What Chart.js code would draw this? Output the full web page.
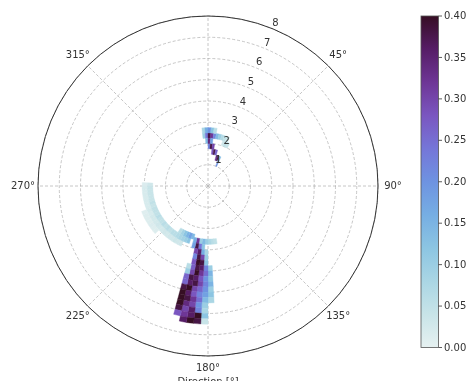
<!DOCTYPE html>
<html>
<head>
<meta charset="utf-8">
<script src="https://cdn.jsdelivr.net/npm/chart.js@4.4.1/dist/chart.umd.min.js"></script>
<style>
  html, body { margin: 0; padding: 0; background: #fff; }
  #wrap { position: relative; width: 466px; height: 381px; }
</style>
</head>
<body>
<div id="wrap"><canvas id="rose"></canvas></div>
<script>
// direction labels (0° is not shown in the original)
const dirLabels = ['', '45°', '90°', '135°', '180°', '225°', '270°', '315°'];
const radialTicks = [1, 2, 3, 4, 5, 6, 7, 8];
const cbarTicks = [0, 0.05, 0.10, 0.15, 0.20, 0.25, 0.30, 0.35, 0.40];
const VMAX = 0.40;
const DIR_BIN = 3;    // degrees per cell
const R_BIN = 0.25;   // radius per cell

// cells: [direction bin start (deg), radius bin start, value]
const streakCells = [
  [21, 1.0, 0.20],
  [15, 1.25, 0.32], [18, 1.25, 0.38], [21, 1.25, 0.14],
  [6, 1.5, 0.28], [9, 1.5, 0.38], [12, 1.5, 0.26],
  [0, 1.75, 0.22], [3, 1.75, 0.38], [6, 1.75, 0.30],
  [357, 2.0, 0.14], [0, 2.0, 0.34], [3, 2.0, 0.18]
];

const hookCells = [
  [18, 2.0, 0.03], [21, 2.0, 0.05], [24, 2.0, 0.04],
  [354, 2.25, 0.10], [357, 2.25, 0.24], [0, 2.25, 0.38], [3, 2.25, 0.32], [6, 2.25, 0.22],
  [9, 2.25, 0.14], [12, 2.25, 0.10], [15, 2.25, 0.07], [18, 2.25, 0.05], [21, 2.25, 0.04],
  [354, 2.5, 0.08], [357, 2.5, 0.16], [0, 2.5, 0.20], [3, 2.5, 0.12], [6, 2.5, 0.06]
];

// pale arcs sweeping from 270° down towards the main column
const innerArcCells = [
  [198, 2.6, 0.12], [201, 2.6, 0.10], [204, 2.6, 0.09], [207, 2.6, 0.08], [210, 2.6, 0.07],
  [213, 2.6, 0.06], [216, 2.6, 0.06], [219, 2.6, 0.05], [222, 2.6, 0.06], [225, 2.6, 0.05],
  [228, 2.6, 0.06], [231, 2.6, 0.05], [234, 2.6, 0.05], [237, 2.6, 0.06], [240, 2.6, 0.05],
  [243, 2.6, 0.05], [246, 2.6, 0.05], [249, 2.6, 0.04], [252, 2.6, 0.05], [255, 2.6, 0.04],
  [258, 2.6, 0.04], [261, 2.6, 0.04], [264, 2.6, 0.04], [267, 2.6, 0.04], [270, 2.6, 0.03]
];

const outerArcCells = [
  [204, 2.85, 0.03], [207, 2.85, 0.03], [210, 2.85, 0.035], [213, 2.85, 0.03], [216, 2.85, 0.03],
  [219, 2.85, 0.025], [222, 2.85, 0.03], [225, 2.85, 0.025], [228, 2.85, 0.025], [231, 2.85, 0.03],
  [234, 2.85, 0.025], [237, 2.85, 0.025], [240, 2.85, 0.025], [243, 2.85, 0.02], [246, 2.85, 0.025],
  [249, 2.85, 0.02], [252, 2.85, 0.02], [255, 2.85, 0.02], [258, 2.85, 0.02], [261, 2.85, 0.02],
  [264, 2.85, 0.02], [267, 2.85, 0.02], [270, 2.85, 0.015],
  [228, 3.1, 0.012], [231, 3.1, 0.012], [234, 3.1, 0.015], [237, 3.1, 0.012], [240, 3.1, 0.012],
  [243, 3.1, 0.012], [246, 3.1, 0.01]
];

const blueBitCells = [
  [195, 2.35, 0.14], [198, 2.35, 0.18], [201, 2.35, 0.15], [204, 2.35, 0.12], [207, 2.35, 0.09],
  [210, 2.35, 0.06],
  [171, 2.5, 0.05], [174, 2.5, 0.06], [177, 2.5, 0.08], [180, 2.5, 0.10], [183, 2.5, 0.14]
];

const columnCells = [
  [186, 2.5, 0.10], [189, 2.5, 0.32], [192, 2.5, 0.16],
  [183, 2.75, 0.12], [186, 2.75, 0.24], [189, 2.75, 0.38], [192, 2.75, 0.18],
  [180, 3.0, 0.08], [183, 3.0, 0.16], [186, 3.0, 0.36], [189, 3.0, 0.30],
  [180, 3.25, 0.10], [183, 3.25, 0.30], [186, 3.25, 0.38], [189, 3.25, 0.22],
  [180, 3.5, 0.12], [183, 3.5, 0.38], [186, 3.5, 0.40], [189, 3.5, 0.28],
  [177, 3.75, 0.10], [180, 3.75, 0.22], [183, 3.75, 0.36], [186, 3.75, 0.38], [189, 3.75, 0.27], [192, 3.75, 0.06],
  [177, 4.0, 0.15], [180, 4.0, 0.25], [183, 4.0, 0.32], [186, 4.0, 0.40], [189, 4.0, 0.30], [192, 4.0, 0.10],
  [177, 4.25, 0.12], [180, 4.25, 0.20], [183, 4.25, 0.28], [186, 4.25, 0.36], [189, 4.25, 0.38], [192, 4.25, 0.26],
  [177, 4.5, 0.15], [180, 4.5, 0.22], [183, 4.5, 0.30], [186, 4.5, 0.38], [189, 4.5, 0.36], [192, 4.5, 0.26],
  [177, 4.75, 0.10], [180, 4.75, 0.20], [183, 4.75, 0.26], [186, 4.75, 0.30], [189, 4.75, 0.40], [192, 4.75, 0.38],
  [177, 5.0, 0.12], [180, 5.0, 0.18], [183, 5.0, 0.22], [186, 5.0, 0.28], [189, 5.0, 0.36], [192, 5.0, 0.40],
  [177, 5.25, 0.08], [180, 5.25, 0.14], [183, 5.25, 0.25], [186, 5.25, 0.32], [189, 5.25, 0.38], [192, 5.25, 0.40],
  [180, 5.5, 0.10], [183, 5.5, 0.20], [186, 5.5, 0.30], [189, 5.5, 0.34], [192, 5.5, 0.40],
  [180, 5.75, 0.08], [183, 5.75, 0.22], [186, 5.75, 0.36], [189, 5.75, 0.30], [192, 5.75, 0.38],
  [180, 6.0, 0.12], [183, 6.0, 0.40], [186, 6.0, 0.36], [189, 6.0, 0.32], [192, 6.0, 0.28],
  [180, 6.25, 0.04], [183, 6.25, 0.38], [186, 6.25, 0.40], [189, 6.25, 0.36]
];

const allCells = [...outerArcCells, ...innerArcCells, ...blueBitCells, ...hookCells, ...streakCells, ...columnCells];

// colour ramp (light teal -> blue -> purple -> near black)
const cmapStops = [
  [230, 241, 241], [200, 228, 232], [170, 214, 228], [140, 197, 226],
  [118, 174, 227], [110, 147, 225], [117, 118, 216], [122, 86, 192],
  [110, 54, 150], [86, 29, 102], [54, 14, 36]
];

function cmap(v) {
  const t = Math.max(0, Math.min(1, v / VMAX));
  const p = t * (cmapStops.length - 1);
  const i = Math.min(Math.floor(p), cmapStops.length - 2);
  const f = p - i;
  const a = cmapStops[i], b = cmapStops[i + 1];
  const c = a.map((x, k) => Math.round(x + (b[k] - x) * f));
  return `rgb(${c[0]},${c[1]},${c[2]})`;
}

const FONT = '10px "DejaVu Sans", sans-serif';
const TEXT = '#333';

// ---------------- heatmap cells + extras ----------------
const polarHeat = {
  id: 'polarHeat',
  beforeDatasetsDraw(chart) {
    const s = chart.scales.r;
    const ctx = chart.ctx;
    ctx.save();
    allCells.forEach(([d, r, v]) => {
      const a0 = (d - 90) * Math.PI / 180;
      const a1 = (d + DIR_BIN - 90) * Math.PI / 180;
      const r0 = s.getDistanceFromCenterForValue(r);
      const r1 = s.getDistanceFromCenterForValue(r + R_BIN);
      ctx.beginPath();
      ctx.arc(s.xCenter, s.yCenter, r1, a0, a1);
      ctx.arc(s.xCenter, s.yCenter, r0, a1, a0, true);
      ctx.closePath();
      ctx.fillStyle = ctx.strokeStyle = cmap(v);
      ctx.lineWidth = 0.4;
      ctx.fill();
      ctx.stroke();
    });
    ctx.restore();
  },
  afterDraw(chart) {
    const s = chart.scales.r;
    const ctx = chart.ctx;
    ctx.save();

    // outer frame
    ctx.beginPath();
    ctx.arc(s.xCenter, s.yCenter, s.drawingArea, 0, Math.PI * 2);
    ctx.strokeStyle = '#333';
    ctx.lineWidth = 1;
    ctx.stroke();

    ctx.font = FONT;
    ctx.fillStyle = TEXT;
    ctx.textAlign = 'center';
    ctx.textBaseline = 'middle';

    // direction labels
    dirLabels.forEach((lab, i) => {
      if (!lab) return;
      const side = Math.abs(Math.sin(i * Math.PI / 4));
      const p = s.getPointPosition(i, s.drawingArea + 12 + side * 3);
      ctx.fillText(lab, p.x, p.y);
    });

    // radial labels at 22.5°
    const ang = (22.5 - 90) * Math.PI / 180;
    radialTicks.forEach(v => {
      const d = s.getDistanceFromCenterForValue(v) + 6;
      ctx.fillText(String(v), s.xCenter + Math.cos(ang) * d, s.yCenter + Math.sin(ang) * d);
    });

    // axis title (partly cut off at the bottom)
    ctx.textBaseline = 'top';
    ctx.fillText('Direction [°]', s.xCenter, 377);

    // colorbar
    const cx = 421, cw = 17.5, top = 16, bot = 347.5;
    const grad = ctx.createLinearGradient(0, bot, 0, top);
    cmapStops.forEach((c, k) => grad.addColorStop(k / (cmapStops.length - 1), `rgb(${c[0]},${c[1]},${c[2]})`));
    ctx.fillStyle = grad;
    ctx.fillRect(cx, top, cw, bot - top);
    ctx.strokeStyle = '#555';
    ctx.lineWidth = 0.8;
    ctx.strokeRect(cx, top, cw, bot - top);

    ctx.fillStyle = TEXT;
    ctx.textAlign = 'left';
    ctx.textBaseline = 'middle';
    cbarTicks.forEach(v => {
      const y = bot - (v / VMAX) * (bot - top);
      ctx.beginPath();
      ctx.moveTo(cx + cw, y);
      ctx.lineTo(cx + cw + 3.5, y);
      ctx.strokeStyle = '#333';
      ctx.stroke();
      ctx.fillText(v.toFixed(2), cx + cw + 5.5, y + 0.5);
    });
    ctx.restore();
  }
};

new Chart(document.getElementById('rose'), {
  type: 'radar',
  data: {
    labels: dirLabels,
    datasets: [{ data: [], pointRadius: 0, borderWidth: 0 }]
  },
  options: {
    responsive: true,
    maintainAspectRatio: false,
    animation: false,
    devicePixelRatio: 1,
    layout: { padding: { left: 16, right: 66, top: 16, bottom: 24 } },
    plugins: { legend: { display: false }, tooltip: { enabled: false } },
    scales: {
      r: {
        min: 0,
        max: 8,
        startAngle: 0,
        ticks: { display: false, stepSize: 1 },
        pointLabels: { display: false },
        grid: { circular: true, color: '#b8b8b8', lineWidth: 0.8 },
        border: { dash: [3, 2] },
        angleLines: { color: '#b8b8b8', lineWidth: 0.8, borderDash: [3, 2] }
      }
    }
  },
  plugins: [polarHeat]
});
</script>
</body>
</html>
